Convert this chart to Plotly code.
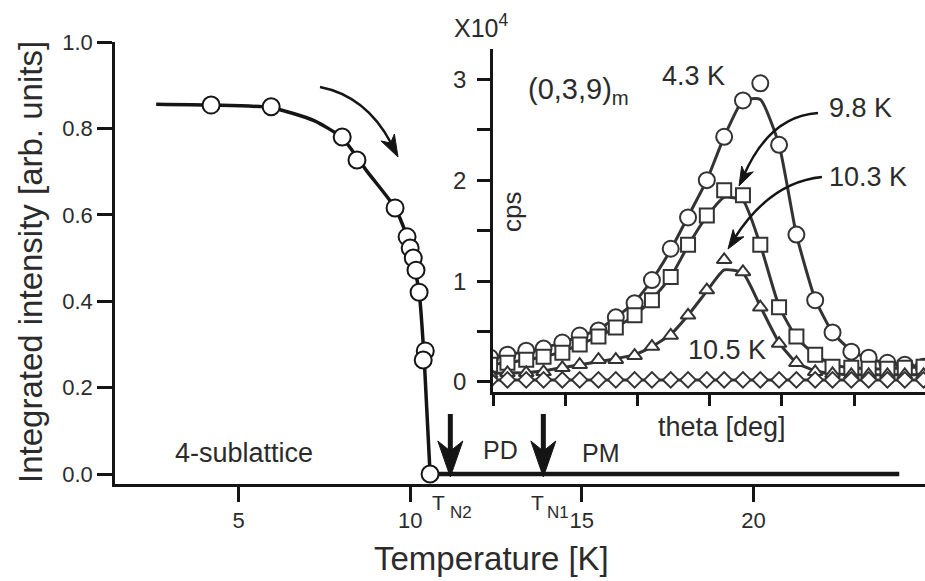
import math
import plotly.graph_objects as go

# ---------------- data ----------------
# main panel: integrated intensity vs temperature
T_points = [4.2, 5.95, 8.02, 8.45, 9.56, 9.91, 10.0, 10.09, 10.17, 10.26, 10.44, 10.38, 10.58]
I_points = [0.854, 0.850, 0.780, 0.727, 0.616, 0.549, 0.523, 0.500, 0.472, 0.421, 0.285, 0.264, 0.0]
T_curve = [2.6, 4.2, 5.95, 7.2, 8.02, 8.75, 9.56, 9.95, 10.26, 10.42, 10.58]
I_curve = [0.856, 0.854, 0.848, 0.818, 0.778, 0.700, 0.616, 0.540, 0.421, 0.250, 0.0]
T_flat = [10.58, 24.25]
I_flat = [0.0, 0.0]
TN2 = 11.17
TN1 = 13.88
x_ticks = [5, 10, 15, 20]
y_ticks = [0.0, 0.2, 0.4, 0.6, 0.8, 1.0]
y_ticktext = ["0.0", "0.2", "0.4", "0.6", "0.8", "1.0"]

# inset: (0,3,9)m scans, cps in units of 1e4
theta = [16.98, 17.10, 17.23, 17.35, 17.48, 17.60, 17.73, 17.85, 17.98, 18.10, 18.23, 18.35, 18.48,
         18.60, 18.73, 18.85, 18.98, 19.10, 19.23, 19.35, 19.48, 19.60, 19.73, 19.85, 19.98]
cps_4_3K = [0.24, 0.27, 0.31, 0.33, 0.39, 0.46, 0.51, 0.64, 0.78, 1.01, 1.32, 1.63, 2.00,
            2.43, 2.79, 2.96, 2.35, 1.46, 0.81, 0.49, 0.30, 0.24, 0.19, 0.17, 0.15]
cps_9_8K = [0.17, 0.19, 0.22, 0.25, 0.29, 0.37, 0.45, 0.54, 0.66, 0.81, 1.04, 1.36, 1.65,
            1.90, 1.85, 1.36, 0.74, 0.45, 0.27, 0.15, 0.14, 0.13, 0.13, 0.14, 0.15]
cps_10_3K = [0.08, 0.09, 0.09, 0.10, 0.14, 0.17, 0.22, 0.22, 0.26, 0.35, 0.46, 0.66, 0.91,
             1.21, 1.09, 0.74, 0.38, 0.19, 0.10, 0.08, 0.07, 0.07, 0.07, 0.07, 0.07]
cps_10_5K = [0.02, 0.02, 0.02, 0.02, 0.02, 0.02, 0.02, 0.02, 0.02, 0.02, 0.02, 0.02, 0.02,
             0.02, 0.02, 0.02, 0.02, 0.02, 0.02, 0.02, 0.02, 0.02, 0.02, 0.02, 0.02]
fit_4_3K = [0.24, 0.27, 0.30, 0.34, 0.39, 0.45, 0.52, 0.64, 0.79, 1.01, 1.31, 1.64, 2.00,
            2.43, 2.79, 2.80, 2.35, 1.46, 0.82, 0.49, 0.31, 0.23, 0.19, 0.17, 0.15]
fit_9_8K = [0.17, 0.19, 0.22, 0.25, 0.30, 0.37, 0.45, 0.54, 0.66, 0.82, 1.04, 1.35, 1.64,
            1.83, 1.80, 1.36, 0.75, 0.44, 0.27, 0.17, 0.14, 0.13, 0.13, 0.14, 0.15]
fit_10_3K = [0.08, 0.09, 0.09, 0.11, 0.14, 0.17, 0.20, 0.23, 0.27, 0.35, 0.47, 0.66, 0.90,
             1.11, 1.08, 0.75, 0.39, 0.19, 0.11, 0.08, 0.07, 0.07, 0.07, 0.07, 0.07]
inset_yticks = [0, 0.5, 1, 1.5, 2, 2.5, 3]
inset_ylabels = [0, 1, 2, 3]
inset_xticks = [17.0, 17.5, 18.0, 18.5, 19.0, 19.5]

# ---------------- layout geometry ----------------
W, H = 925, 581
ML, MR, MT, MB = 115, 0, 42, 97
PW, PH = W - ML - MR, H - MT - MB
X_RANGE = [1.40, 25.0]
Y_RANGE = [-0.023, 1.0]
INS_X = [(493 - ML) / PW, 1.0]
INS_Y = [(H - MB - 392) / PH, (H - MB - 49) / PH]

FONT = "Liberation Sans, Arial, Helvetica, sans-serif"
TXT = "#2b2b2b"
INK = "#151515"
GREY = "#333333"


def P(px, py):
    """pixel -> paper coordinates of the main plot area"""
    return (px - ML) / PW, (H - MB - py) / PH


def T2px(t):
    return ML + (t - X_RANGE[0]) / (X_RANGE[1] - X_RANGE[0]) * PW


def curve_path(p0, c, p1):
    a, b, d = P(*p0), P(*c), P(*p1)
    return f"M {a[0]},{a[1]} Q {b[0]},{b[1]} {d[0]},{d[1]}"


def head_path(tip, direc, L, Wd):
    n = math.hypot(*direc)
    dx, dy = direc[0] / n, direc[1] / n
    bx, by = tip[0] - L * dx, tip[1] - L * dy
    nx, ny = -dy, dx
    pts = [tip, (bx + Wd / 2 * nx, by + Wd / 2 * ny),
           (tip[0] - 0.72 * L * dx, tip[1] - 0.72 * L * dy),
           (bx - Wd / 2 * nx, by - Wd / 2 * ny)]
    pp = [P(*q) for q in pts]
    return "M " + " L ".join(f"{q[0]},{q[1]}" for q in pp) + " Z"


fig = go.Figure()

# main panel
fig.add_trace(go.Scatter(x=T_curve, y=I_curve, mode="lines",
                         line=dict(color=INK, width=3.5, shape="spline", smoothing=0.6),
                         xaxis="x", yaxis="y", showlegend=False, hoverinfo="skip"))
fig.add_trace(go.Scatter(x=T_flat, y=I_flat, mode="lines",
                         line=dict(color=INK, width=4.5),
                         xaxis="x", yaxis="y", showlegend=False, hoverinfo="skip"))
fig.add_trace(go.Scatter(x=T_points, y=I_points, mode="markers",
                         marker=dict(symbol="circle", size=17, color="white",
                                     line=dict(color=INK, width=2)),
                         xaxis="x", yaxis="y", showlegend=False, cliponaxis=False))

# inset lines
for fit in (fit_4_3K, fit_9_8K, fit_10_3K, cps_10_5K):
    fig.add_trace(go.Scatter(x=theta, y=fit, mode="lines",
                             line=dict(color=GREY, width=3, shape="spline", smoothing=0.5),
                             xaxis="x2", yaxis="y2", showlegend=False, hoverinfo="skip"))
# inset markers
for vals, sym, sz in ((cps_4_3K, "circle", 16), (cps_9_8K, "square", 14),
                      (cps_10_3K, "triangle-up", 13), (cps_10_5K, "diamond", 12)):
    fig.add_trace(go.Scatter(x=theta, y=vals, mode="markers",
                             marker=dict(symbol=sym, size=sz, color="white",
                                         line=dict(color=GREY, width=2)),
                             xaxis="x2", yaxis="y2", showlegend=False))

shapes = []
# curved arrow in main panel
shapes.append(dict(type="path", xref="paper", yref="paper",
                   path=curve_path((320, 87), (366, 96), (391, 143)),
                   line=dict(color=INK, width=2.5)))
shapes.append(dict(type="path", xref="paper", yref="paper",
                   path=head_path((398, 157), (10, 19), 22, 15),
                   fillcolor=INK, line=dict(color=INK, width=1)))
# inset curved arrows
shapes.append(dict(type="path", xref="paper", yref="paper",
                   path=curve_path((818, 113), (770, 116), (744, 175)),
                   line=dict(color=INK, width=2.5)))
shapes.append(dict(type="path", xref="paper", yref="paper",
                   path=head_path((739, 186), (-9, 18), 19, 13),
                   fillcolor=INK, line=dict(color=INK, width=1)))
shapes.append(dict(type="path", xref="paper", yref="paper",
                   path=curve_path((822, 177), (770, 182), (734, 239)),
                   line=dict(color=INK, width=2.5)))
shapes.append(dict(type="path", xref="paper", yref="paper",
                   path=head_path((728, 249), (-12, 18), 19, 13),
                   fillcolor=INK, line=dict(color=INK, width=1)))
# transition arrows
for tn in (TN2, TN1):
    px = T2px(tn)
    a, b = P(px, 414), P(px, 456)
    shapes.append(dict(type="line", xref="paper", yref="paper",
                       x0=a[0], y0=a[1], x1=b[0], y1=b[1],
                       line=dict(color=INK, width=5)))
    shapes.append(dict(type="path", xref="paper", yref="paper",
                       path=head_path((px, 477), (0, 1), 36, 25),
                       fillcolor=INK, line=dict(color=INK, width=1)))

annotations = []


def txt(s, px, py, size, angle=0, xanchor="center"):
    x, y = P(px, py)
    annotations.append(dict(text=s, x=x, y=y, xref="paper", yref="paper",
                            showarrow=False, xanchor=xanchor, yanchor="middle",
                            textangle=angle, font=dict(family=FONT, size=size, color=TXT)))


txt("4-sublattice", 244, 453, 27)
txt("PD", 500, 450, 25)
txt("PM", 601, 453, 25)
txt("T", 438, 502, 21)
txt("N2", 461, 512, 17)
txt("T", 537, 502, 21)
txt("N1", 558, 512, 17)
txt("Temperature [K]", 491, 558, 33)
txt("Integrated intensity [arb. units]", 30, 262, 33, angle=-90)
txt("X10<sup>4</sup>", 481, 26, 25)
txt("cps", 512, 212, 26, angle=-90)
txt("(0,3,9)<sub>m</sub>", 578, 91, 29)
txt("4.3 K", 693, 76, 27)
txt("9.8 K", 860, 108, 27)
txt("10.3 K", 868, 177, 27)
txt("10.5 K", 727, 350, 27)
txt("theta [deg]", 722, 427, 27)

# inset y tick labels placed at their axis values
for v in inset_ylabels:
    annotations.append(dict(text=str(v), x=P(468, 0)[0], y=v, xref="paper", yref="y2",
                            showarrow=False, xanchor="right", yanchor="middle",
                            font=dict(family=FONT, size=24, color=TXT)))

axis_common = dict(showgrid=False, zeroline=False, showline=True, linecolor=INK,
                   linewidth=2.5, ticks="outside", tickcolor=INK, tickwidth=2.5,
                   tickfont=dict(family=FONT, size=22, color=TXT))

fig.update_layout(
    width=W, height=H,
    margin=dict(l=ML, r=MR, t=MT, b=MB, pad=0),
    paper_bgcolor="white", plot_bgcolor="white",
    showlegend=False,
    xaxis=dict(range=X_RANGE, tickvals=x_ticks, ticklen=15, domain=[0, 1],
               anchor="y", **axis_common),
    yaxis=dict(range=Y_RANGE, tickvals=y_ticks, ticktext=y_ticktext, ticklen=15,
               domain=[0, 1], anchor="x", **axis_common),
    xaxis2=dict(range=[17.0, 19.99], tickvals=inset_xticks, showticklabels=False,
                ticklen=11, domain=INS_X, anchor="y2", **axis_common),
    yaxis2=dict(range=[-0.1, 3.3], tickvals=inset_yticks, showticklabels=False,
                ticklen=13, domain=INS_Y, anchor="x2", **axis_common),
    shapes=shapes,
    annotations=annotations,
)

fig.write_html("out.html")
